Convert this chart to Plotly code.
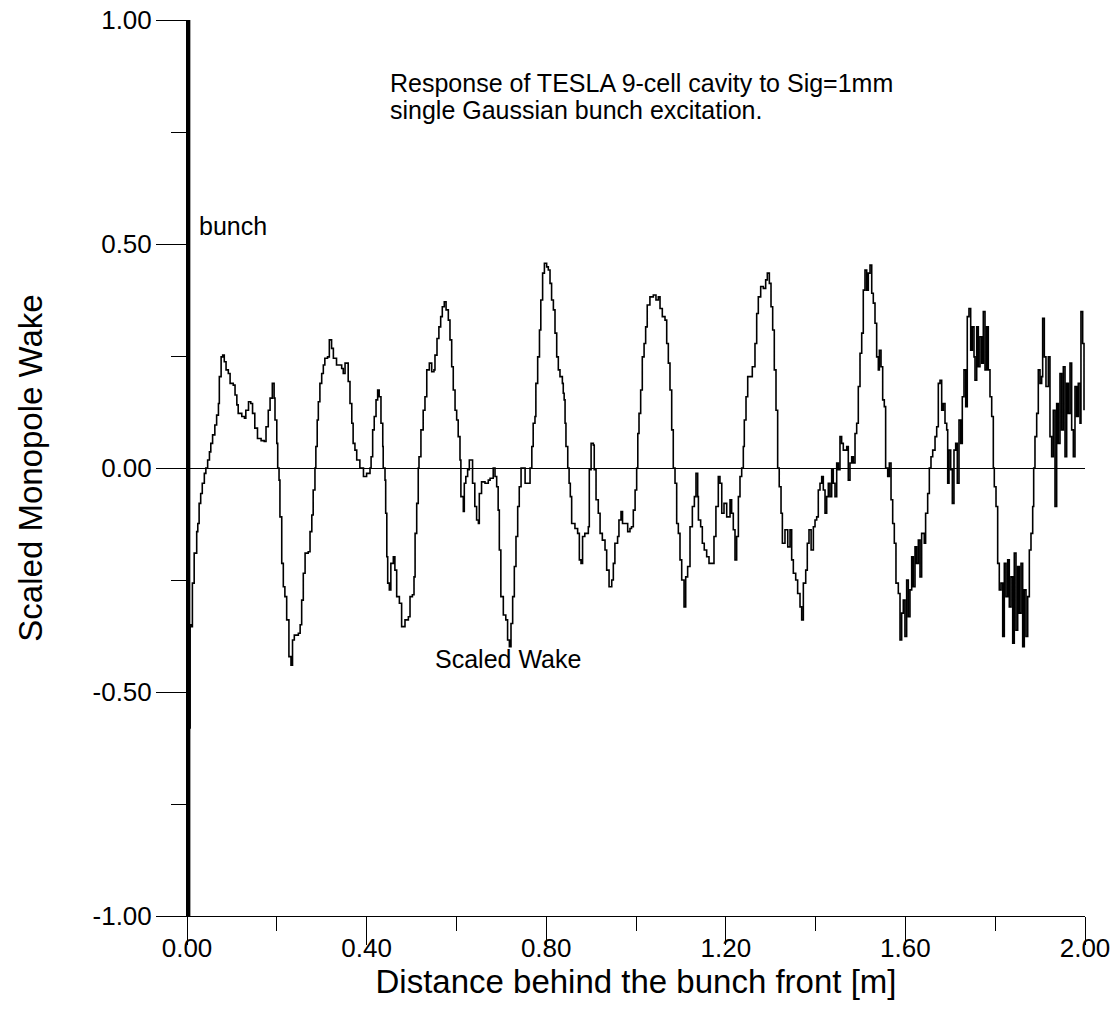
import plotly.graph_objects as go

# Wake samples (distance [m], scaled wake)
wake_x = [0.003,0.005,0.007,0.010,0.012,0.016,0.0216,0.024,0.027,0.0305,0.034,0.0386,0.042,0.046,0.050,0.053,0.057,0.062,0.066,0.070,0.072,0.076,0.0795,0.083,0.087,0.092,0.096,0.103,0.107,0.111,0.114,0.122,0.128,0.131,0.137,0.142,0.146,0.151,0.157,0.165,0.172,0.176,0.181,0.185,0.190,0.194,0.196,0.200,0.202,0.205,0.207,0.211,0.2145,0.218,0.222,0.227,0.2316,0.235,0.239,0.248,0.252,0.2554,0.259,0.263,0.270,0.274,0.278,0.281,0.285,0.287,0.290,0.2925,0.296,0.300,0.3036,0.307,0.313,0.317,0.322,0.326,0.333,0.337,0.3445,0.348,0.352,0.357,0.359,0.363,0.367,0.370,0.374,0.378,0.383,0.385,0.393,0.400,0.4076,0.410,0.4135,0.417,0.421,0.4246,0.428,0.432,0.436,0.437,0.441,0.4425,0.445,0.447,0.4506,0.454,0.4595,0.463,0.467,0.473,0.478,0.4855,0.493,0.4967,0.502,0.5056,0.508,0.5116,0.515,0.5167,0.521,0.526,0.530,0.534,0.5397,0.545,0.550,0.5523,0.5568,0.561,0.565,0.5686,0.573,0.577,0.582,0.5857,0.5895,0.593,0.597,0.6006,0.604,0.608,0.610,0.6154,0.6176,0.621,0.625,0.6288,0.6325,0.636,0.641,0.645,0.649,0.651,0.656,0.6637,0.671,0.675,0.682,0.686,0.6897,0.693,0.6956,0.699,0.7045,0.710,0.714,0.718,0.7216,0.7253,0.729,0.7327,0.7365,0.740,0.744,0.749,0.753,0.760,0.764,0.768,0.771,0.775,0.777,0.781,0.785,0.788,0.792,0.796,0.801,0.8047,0.8085,0.812,0.816,0.8196,0.8234,0.827,0.8307,0.836,0.838,0.840,0.842,0.844,0.848,0.851,0.8537,0.8567,0.864,0.870,0.8738,0.8775,0.881,0.886,0.8938,0.896,0.900,0.905,0.907,0.911,0.916,0.920,0.925,0.931,0.9347,0.940,0.946,0.9495,0.953,0.959,0.962,0.9666,0.970,0.9755,0.9815,0.9866,0.990,0.994,0.998,1.0015,1.004,1.0067,1.0104,1.014,1.018,1.0215,1.025,1.031,1.0386,1.0445,1.0497,1.0535,1.0586,1.0646,1.0684,1.072,1.0757,1.0795,1.083,1.0869,1.0906,1.0943,1.098,1.1018,1.107,1.1107,1.115,1.1203,1.1255,1.13,1.1336,1.1374,1.139,1.144,1.1477,1.152,1.1574,1.1626,1.17,1.1737,1.178,1.1833,1.187,1.191,1.196,1.202,1.2094,1.213,1.2167,1.2205,1.2242,1.228,1.2316,1.2354,1.239,1.2412,1.245,1.2488,1.254,1.259,1.265,1.2688,1.2724,1.2777,1.2836,1.2888,1.2925,1.297,1.3007,1.3044,1.308,1.3118,1.3155,1.319,1.323,1.326,1.3318,1.338,1.343,1.3467,1.3504,1.3557,1.360,1.3653,1.369,1.3727,1.378,1.3815,1.3853,1.39,1.395,1.3987,1.4024,1.406,1.4098,1.4136,1.4172,1.421,1.4247,1.4283,1.432,1.4358,1.4394,1.4432,1.447,1.4506,1.4543,1.458,1.4617,1.4693,1.4728,1.4766,1.4804,1.484,1.4878,1.4915,1.4951,1.4989,1.5027,1.5062,1.51,1.5138,1.5174,1.5212,1.525,1.5285,1.5323,1.536,1.5397,1.542,1.5457,1.5494,1.553,1.556,1.5606,1.5642,1.568,1.5717,1.5753,1.579,1.5842,1.588,1.5917,1.5953,1.599,1.6028,1.6065,1.6102,1.614,1.6176,1.6214,1.625,1.6288,1.6325,1.6362,1.642,1.645,1.6496,1.6533,1.657,1.6608,1.666,1.6697,1.6733,1.6771,1.6808,1.6844,1.6882,1.692,1.6942,1.6971,1.7009,1.7045,1.7082,1.712,1.7156,1.7194,1.7232,1.7267,1.7305,1.7343,1.7378,1.7416,1.7454,1.749,1.7528,1.755,1.7588,1.7624,1.7661,1.77,1.7735,1.7773,1.781,1.7846,1.7884,1.7922,1.7958,1.798,1.8018,1.8055,1.8091,1.8129,1.8167,1.8203,1.824,1.8278,1.8314,1.8352,1.839,1.8425,1.8463,1.8501,1.8537,1.8575,1.8612,1.8648,1.8686,1.8724,1.876,1.8797,1.8835,1.8857,1.8886,1.8924,1.896,1.8998,1.9035,1.9057,1.9094,1.9131,1.9183,1.922,1.9257,1.9294,1.9332,1.9369,1.9405,1.9443,1.948,1.9517,1.9555,1.9592,1.9628,1.9666,1.9703,1.974,1.9777,1.9814,1.985,1.9889,1.991,1.9948,1.9978]
wake_y = [-1.0,-0.58,-0.35,-0.354,-0.257,-0.19,-0.142,-0.124,-0.079,-0.057,-0.034,-0.012,0.0,0.018,0.036,0.055,0.074,0.096,0.118,0.144,0.204,0.248,0.252,0.237,0.219,0.211,0.189,0.185,0.163,0.141,0.122,0.115,0.111,0.129,0.148,0.144,0.122,0.089,0.066,0.061,0.059,0.092,0.129,0.156,0.189,0.156,0.107,0.055,0.0,-0.027,-0.109,-0.213,-0.265,-0.287,-0.339,-0.421,-0.44,-0.384,-0.373,-0.369,-0.35,-0.295,-0.235,-0.19,-0.187,-0.142,-0.105,-0.049,0.0,0.048,0.107,0.148,0.189,0.211,0.23,0.245,0.248,0.286,0.267,0.245,0.23,0.23,0.222,0.211,0.234,0.234,0.193,0.144,0.1,0.055,0.04,0.018,0.018,0.0,-0.019,-0.012,0.0,0.025,0.085,0.115,0.152,0.174,0.159,0.1,0.048,0.0,-0.027,-0.101,-0.198,-0.257,-0.272,-0.213,-0.198,-0.228,-0.287,-0.302,-0.354,-0.339,-0.332,-0.287,-0.283,-0.243,-0.146,-0.079,0.0,0.025,0.085,0.129,0.159,0.219,0.234,0.215,0.219,0.252,0.289,0.315,0.338,0.36,0.371,0.353,0.33,0.286,0.226,0.174,0.129,0.107,0.07,0.018,-0.064,-0.097,-0.034,-0.019,-0.004,0.018,0.018,-0.034,-0.086,-0.116,-0.124,-0.057,-0.031,-0.034,-0.027,-0.023,0.0,-0.019,-0.042,-0.094,-0.183,-0.287,-0.328,-0.339,-0.384,-0.399,-0.347,-0.287,-0.22,-0.153,-0.086,-0.042,0.0,0.0,-0.034,-0.034,0.0,0.048,0.1,0.115,0.189,0.248,0.308,0.375,0.435,0.457,0.449,0.442,0.412,0.375,0.353,0.301,0.248,0.219,0.204,0.189,0.167,0.152,0.1,0.048,0.0,-0.034,-0.064,-0.124,-0.135,-0.146,-0.205,-0.213,-0.153,-0.146,-0.131,-0.004,0.055,0.051,-0.004,-0.071,-0.101,-0.146,-0.161,-0.183,-0.228,-0.265,-0.25,-0.213,-0.168,-0.153,-0.116,-0.097,-0.124,-0.124,-0.142,-0.135,-0.131,-0.094,-0.049,0.0,0.077,0.122,0.174,0.248,0.278,0.315,0.364,0.382,0.386,0.375,0.382,0.356,0.338,0.33,0.278,0.234,0.174,0.085,0.0,-0.034,-0.124,-0.146,-0.205,-0.25,-0.31,-0.243,-0.22,-0.131,-0.086,-0.064,-0.012,-0.064,-0.116,-0.131,-0.168,-0.183,-0.198,-0.213,-0.213,-0.153,-0.086,-0.019,-0.034,-0.101,-0.079,-0.109,-0.071,-0.101,-0.138,-0.205,-0.153,-0.064,-0.019,0.0,0.048,0.107,0.159,0.204,0.204,0.226,0.278,0.345,0.382,0.405,0.401,0.42,0.435,0.412,0.36,0.308,0.219,0.129,0.0,-0.042,-0.101,-0.168,-0.138,-0.176,-0.138,-0.205,-0.235,-0.25,-0.28,-0.31,-0.339,-0.257,-0.228,-0.168,-0.138,-0.183,-0.131,-0.116,-0.109,-0.049,-0.034,-0.019,-0.049,-0.101,-0.064,-0.034,-0.064,-0.004,-0.034,-0.064,0.011,-0.004,0.07,0.055,0.04,0.048,-0.027,0.011,0.025,0.011,0.077,0.1,0.182,0.256,0.301,0.397,0.442,0.397,0.435,0.453,0.39,0.368,0.323,0.248,0.219,0.263,0.226,0.152,0.137,0.0,-0.019,0.011,-0.071,-0.124,-0.168,-0.257,-0.28,-0.384,-0.324,-0.295,-0.376,-0.25,-0.332,-0.272,-0.198,-0.265,-0.176,-0.213,-0.161,-0.243,-0.146,-0.168,-0.101,-0.057,0.0,0.025,0.04,0.07,0.092,0.189,0.196,0.129,0.144,0.1,0.085,-0.034,0.04,-0.004,-0.079,0.04,0.055,-0.034,0.107,0.055,0.159,0.219,0.137,0.338,0.356,0.263,0.315,0.248,0.196,0.315,0.226,0.293,0.234,0.349,0.219,0.315,0.219,0.159,0.115,0.0,-0.042,-0.086,-0.213,-0.272,-0.257,-0.376,-0.213,-0.287,-0.205,-0.31,-0.243,-0.391,-0.19,-0.362,-0.22,-0.324,-0.213,-0.399,-0.272,-0.376,-0.287,-0.183,-0.146,-0.086,0.0,0.07,0.122,0.219,0.189,0.204,0.334,0.248,0.182,0.248,0.07,0.025,0.129,-0.086,0.144,0.055,0.211,0.085,0.226,0.025,0.189,0.122,0.234,0.085,0.025,0.182,0.115,0.189,0.1,0.349,0.278,0.129]

# Bunch (very short Gaussian at the front)
bunch_x = [0.003, 0.003]
bunch_y = [-1.0, 1.0]

x_tick_vals = [0.0, 0.4, 0.8, 1.2, 1.6, 2.0]
x_tick_text = ["0.00", "0.40", "0.80", "1.20", "1.60", "2.00"]
y_tick_vals = [-1.0, -0.5, 0.0, 0.5, 1.0]
y_tick_text = ["-1.00", "-0.50", "0.00", "0.50", "1.00"]

FONT = "Liberation Sans, Arial, sans-serif"

fig = go.Figure()
fig.add_trace(go.Scatter(x=wake_x, y=wake_y, mode="lines", line=dict(color="black", width=1.6, shape="hv"),
                         name="Scaled Wake", showlegend=False))
fig.add_trace(go.Scatter(x=bunch_x, y=bunch_y, mode="lines", line=dict(color="black", width=4),
                         name="bunch", showlegend=False))

fig.update_layout(
    width=1119, height=1036,
    margin=dict(l=187, r=34, t=20, b=120),
    paper_bgcolor="white", plot_bgcolor="white",
    font=dict(family=FONT, color="black"),
    showlegend=False,
)
fig.update_xaxes(
    range=[0, 2], showgrid=False, zeroline=False,
    showline=True, linecolor="black", linewidth=1,
    tickmode="array", tickvals=x_tick_vals, ticktext=x_tick_text,
    ticks="outside", ticklen=28, tickwidth=1, tickcolor="black",
    minor=dict(dtick=0.2, tick0=0, ticks="outside", ticklen=14, tickwidth=1, tickcolor="black", showgrid=False),
    tickfont=dict(size=26, family=FONT), ticklabelstandoff=-19,
    title=dict(text="Distance behind the bunch front [m]", font=dict(size=33, family=FONT), standoff=5),
    automargin=False,
)
fig.update_yaxes(
    range=[-1, 1], showgrid=False,
    zeroline=True, zerolinecolor="black", zerolinewidth=1,
    showline=True, linecolor="black", linewidth=1,
    tickmode="array", tickvals=y_tick_vals, ticktext=y_tick_text,
    ticks="outside", ticklen=30, tickwidth=1, tickcolor="black",
    minor=dict(dtick=0.25, tick0=0, ticks="outside", ticklen=15, tickwidth=1, tickcolor="black", showgrid=False),
    tickfont=dict(size=26, family=FONT), ticklabelstandoff=-1,
    title=dict(text="Scaled Monopole Wake", font=dict(size=33, family=FONT), standoff=39),
    automargin=False,
)

ann_font = dict(size=25, family=FONT, color="black")
fig.add_annotation(x=0.4477, y=0.860, xref="x", yref="y", xanchor="left", yanchor="middle", showarrow=False,
                   text="Response of TESLA 9-cell cavity to Sig=1mm", font=ann_font)
fig.add_annotation(x=0.4477, y=0.800, xref="x", yref="y", xanchor="left", yanchor="middle", showarrow=False,
                   text="single Gaussian bunch excitation.", font=ann_font)
fig.add_annotation(x=0.0223, y=0.541, xref="x", yref="y", xanchor="left", yanchor="middle", showarrow=False,
                   text="bunch", font=ann_font)
fig.add_annotation(x=0.548, y=-0.427, xref="x", yref="y", xanchor="left", yanchor="middle", showarrow=False,
                   text="Scaled Wake", font=ann_font)

fig.write_html("out.html")
